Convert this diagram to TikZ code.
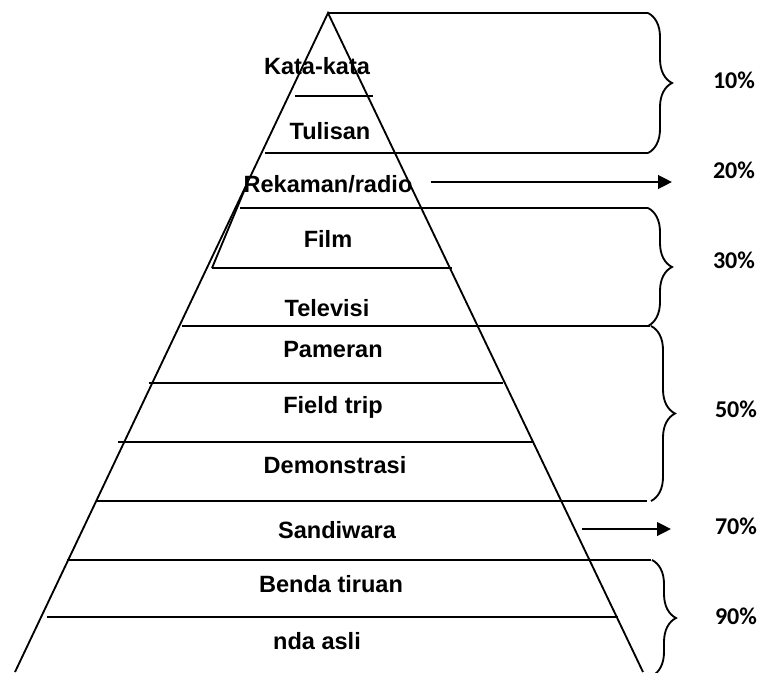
\documentclass[tikz,border=0pt]{standalone}
\usepackage{fontspec}
\setmainfont{Liberation Sans}
\newfontfamily\pctfont{Carlito}
\usetikzlibrary{arrows.meta,decorations.pathreplacing}

\tikzset{
	layer/.style={font=\fontsize{13.4}{16}\selectfont\bfseries, anchor=base, inner sep=0pt},
	pct/.style={font=\pctfont\fontsize{13.7}{16}\selectfont\bfseries, anchor=base, inner sep=0pt},
	edge/.style={line width=1.05pt},
	pointer/.style={line width=1.5pt, -{Triangle[length=0.28cm,width=0.27cm]}},
	curly/.style={line width=1.05pt, decorate, decoration={brace, amplitude=0.48cm}}
}

\begin{document}
\begin{tikzpicture}[x=0.02cm, y=-0.02cm]

	\clip (0,0) rectangle (763,672);

	\draw[edge] (15,672) -- (328,13) -- (643,672);
	\draw[edge] (328,13) -- (648,13);
	\draw[edge] (295,96) -- (373,96);
	\draw[edge] (265,153) -- (648,153);
	\draw[edge] (240,208) -- (648,208);
	\draw[edge] (247,184) -- (212,268);
	\draw[edge] (212,268) -- (452,268);
	\draw[edge] (182,326) -- (650,326);
	\draw[edge] (149,383) -- (503,383);
	\draw[edge] (118,442) -- (534,442);
	\draw[edge] (96,501) -- (647,501);
	\draw[edge] (67,560) -- (651,560);
	\draw[edge] (47,617) -- (618,617);

	\draw[curly] (648,13) -- (648,153);
	\draw[curly] (648,208) -- (648,326);
	\draw[curly] (651,326) -- (651,501);
	\draw[curly] (652,560) -- (652,676);

	\coordinate (a20) at (431,182);
	\coordinate (b20) at (672,182);
	\coordinate (a70) at (582,529);
	\coordinate (b70) at (671,529);
	\draw[pointer] (a20) -- (b20);
	\draw[pointer] (a70) -- (b70);

	\node[layer] (kata) at (317,75) {Kata-kata};
	\node[layer] (tulisan) at (330,140) {Tulisan};
	\node[layer] (rekaman) at (328,193) {Rekaman/radio};
	\node[layer] (film) at (328,247) {Film};
	\node[layer] (televisi) at (327,316) {Televisi};
	\node[layer] (pameran) at (333,357) {Pameran};
	\node[layer] (fieldtrip) at (333,413) {Field trip};
	\node[layer] (demo) at (335,473) {Demonstrasi};
	\node[layer] (sandiwara) at (337,538) {Sandiwara};
	\node[layer] (benda) at (331,592) {Benda tiruan};
	\node[layer] (asli) at (317,649) {nda asli};

	\node[pct] (p10) at (734,89) {10\%};
	\node[pct] (p20) at (734,178) {20\%};
	\node[pct] (p30) at (734,268) {30\%};
	\node[pct] (p50) at (736,417) {50\%};
	\node[pct] (p70) at (736,534) {70\%};
	\node[pct] (p90) at (736,624) {90\%};

\end{tikzpicture}
\end{document}
